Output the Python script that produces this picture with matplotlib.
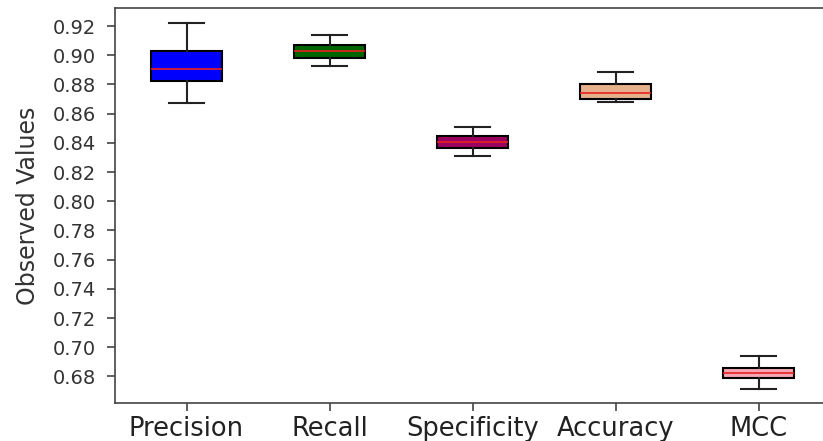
import matplotlib
matplotlib.use("Agg")
import matplotlib.pyplot as plt

categories = ["Precision", "Recall", "Specificity", "Accuracy", "MCC"]
whisker_low = [0.8673, 0.8924, 0.8307, 0.8683, 0.6715]
q1 = [0.8826, 0.8984, 0.8365, 0.8701, 0.6787]
median = [0.8903, 0.9031, 0.8409, 0.8745, 0.6822]
q3 = [0.9031, 0.9070, 0.8450, 0.8803, 0.6857]
whisker_high = [0.9221, 0.9142, 0.8511, 0.8887, 0.6943]
box_colors = ["#0000ff", "#006400", "#9a0060", "#e6b08a", "#f4a6b4"]
yticks = [0.68, 0.70, 0.72, 0.74, 0.76, 0.78, 0.80, 0.82, 0.84, 0.86, 0.88, 0.90, 0.92]

stats = []
for i, c in enumerate(categories):
    stats.append(dict(label=c, whislo=whisker_low[i], q1=q1[i], med=median[i],
                      q3=q3[i], whishi=whisker_high[i], fliers=[]))

fig = plt.figure(figsize=(8.23, 4.41), dpi=100)
ax = fig.add_axes([115/823, 1 - 403/441, (840-115)/823, (403-8)/441])

bp = ax.bxp(stats, positions=range(1, 6), widths=0.5, patch_artist=True,
            showfliers=False,
            boxprops=dict(edgecolor="black", linewidth=1.5),
            whiskerprops=dict(color="#222222", linewidth=1.5),
            capprops=dict(color="#222222", linewidth=1.5),
            medianprops=dict(color="#e82020", linewidth=1.2))
for patch, col in zip(bp["boxes"], box_colors):
    patch.set_facecolor(col)

ax.set_xlim(0.5, 0.5 + 5 * (840 - 115) / 715)
ax.set_ylim(0.6618, 0.9324)
ax.set_yticks(yticks)
ax.set_yticklabels([f"{t:.2f}" for t in yticks], fontsize=14, color="#333333")
ax.set_xticks(range(1, 6))
ax.set_xticklabels(categories, fontsize=18.5, color="#222222")
ax.set_ylabel("Observed Values", fontsize=17, color="#333333", labelpad=9)
for s in ax.spines.values():
    s.set_color("#444444")
    s.set_linewidth(1.2)
ax.spines["right"].set_visible(False)
ax.tick_params(axis="both", length=6, width=1.2, color="#444444")
ax.tick_params(axis="y", pad=8)
ax.tick_params(axis="x", pad=3)

fig.savefig("out.png", dpi=100)
